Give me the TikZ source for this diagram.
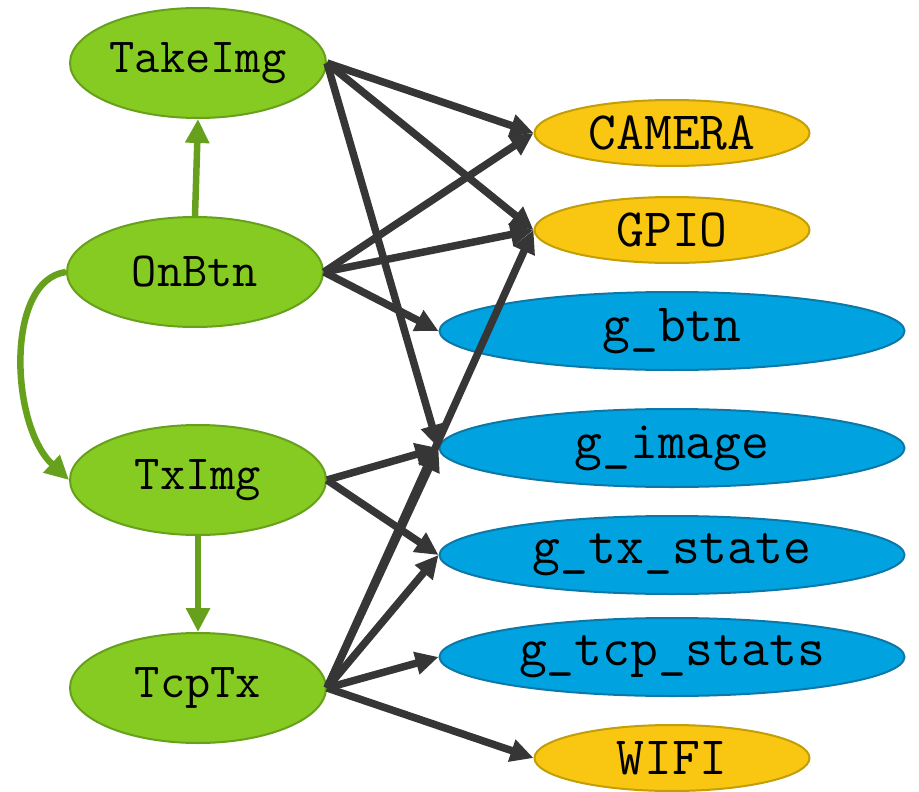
\documentclass[tikz,border=0pt]{standalone}
\usepackage{fontspec}
\usetikzlibrary{shapes.geometric,arrows.meta}
\definecolor{taskfill}{HTML}{86CB22}
\definecolor{taskline}{HTML}{67A01C}
\definecolor{devfill}{HTML}{F9C612}
\definecolor{devline}{HTML}{C29E08}
\definecolor{varfill}{HTML}{00A3E0}
\definecolor{varline}{HTML}{0C78A8}
\definecolor{accline}{HTML}{363636}
\definecolor{flowline}{HTML}{67A01C}
\tikzset{
  base/.style={ellipse, inner sep=0pt, line width=2pt},
  task/.style={base, fill=taskfill, draw=taskline, minimum width=256pt, minimum height=110pt,
    font=\ttfamily\fontsize{49}{49}\selectfont},
  device/.style={base, fill=devfill, draw=devline, minimum width=275pt, minimum height=66pt,
    font=\ttfamily\fontsize{54}{54}\selectfont},
  shared/.style={base, fill=varfill, draw=varline, minimum width=465pt, minimum height=78pt,
    font=\ttfamily\fontsize{54}{54}\selectfont},
  access/.style={draw=accline, line width=7.5pt, -{Triangle[length=23pt,width=22pt]}},
  flow/.style={draw=flowline, line width=6.5pt, -{Triangle[length=24pt,width=23pt]}},
}
\begin{document}
\begin{tikzpicture}[x=1pt,y=-1pt]
\useasboundingbox (0,0) rectangle (919,792);

% tasks
\node[task] (takeimg) at (198,63) {TakeImg};
\node[task] (onbtn) at (195,272) {OnBtn};
\node[task] (tximg) at (198,480) {TxImg};
\node[task] (tcptx) at (198,688) {TcpTx};

% devices and shared variables
\node[device] (camera) at (672,133) {CAMERA};
\node[device] (gpio) at (672,230) {GPIO};
\node[shared] (gbtn) at (672,331) {g\_btn};
\node[shared] (gimage) at (672,448) {g\_image};
\node[shared] (gtxstate) at (672,555) {g\_tx\_state};
\node[shared] (gtcpstats) at (672,657) {g\_tcp\_stats};
\node[device] (wifi) at (672,758) {WIFI};

% control flow between tasks
\draw[flow] (onbtn.north) -- (takeimg.south);
\draw[flow] (onbtn.west) .. controls (5,280) and (10,425) .. (tximg.west);
\draw[flow] (tximg.south) -- (tcptx.north);

% resource accesses
\draw[access] (takeimg.east) -- (camera.west);
\draw[access] (takeimg.east) -- (gpio.west);
\draw[access] (takeimg.east) -- (gimage.west);
\draw[access] (onbtn.east) -- (camera.west);
\draw[access] (onbtn.east) -- (gpio.west);
\draw[access] (onbtn.east) -- (gbtn.west);
\draw[access] (tximg.east) -- (gimage.west);
\draw[access] (tximg.east) -- (gtxstate.west);
\draw[access] (tcptx.east) -- (gimage.west);
\draw[access] (tcptx.east) -- (gpio.west);
\draw[access] (tcptx.east) -- (gtxstate.west);
\draw[access] (tcptx.east) -- (gtcpstats.west);
\draw[access] (tcptx.east) -- (wifi.west);
\end{tikzpicture}
\end{document}
